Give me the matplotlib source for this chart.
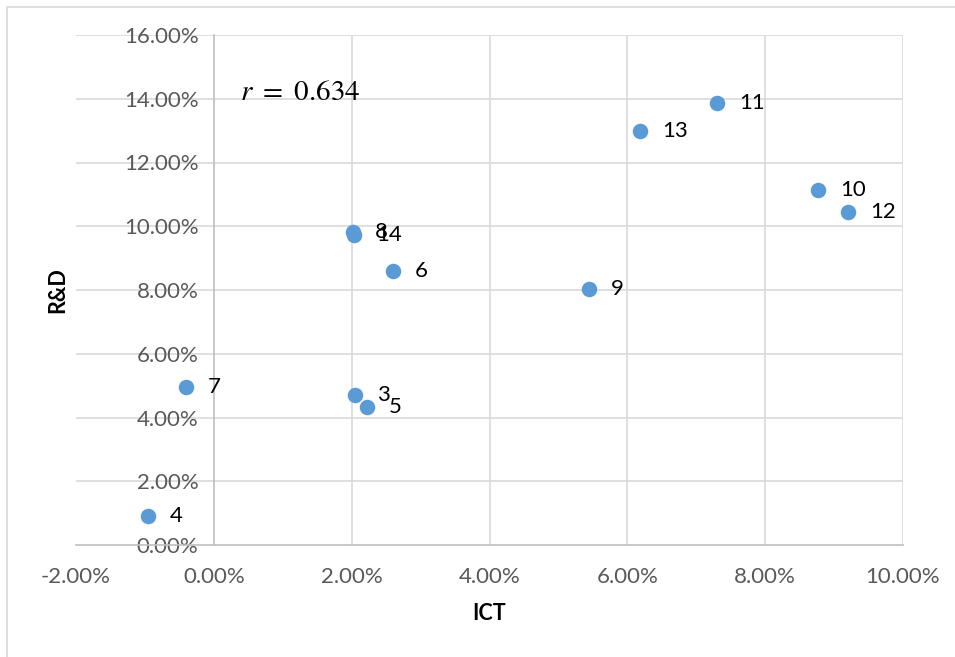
import matplotlib
matplotlib.use('Agg')
import matplotlib.pyplot as plt
from matplotlib.ticker import FuncFormatter
from matplotlib.patches import Rectangle

# observations: ICT growth vs R&D growth (percent), labelled by number
labels = ['3', '4', '5', '6', '7', '8', '9', '10', '11', '12', '13', '14']
ict = [2.05, -0.96, 2.22, 2.60, -0.41, 2.02, 5.44, 8.77, 7.30, 9.20, 6.18, 2.03]
rnd = [4.71, 0.90, 4.33, 8.60, 4.95, 9.82, 8.03, 11.14, 13.87, 10.45, 12.99, 9.73]
r_value = 0.634

xticks = [-2, 0, 2, 4, 6, 8, 10]
yticks = [0, 2, 4, 6, 8, 10, 12, 14, 16]

plt.rcParams['font.family'] = ['Lato', 'DejaVu Sans']

fig = plt.figure(figsize=(9.55, 6.57), dpi=100)
ax = fig.add_axes([76/955, 1-545/657, 827/955, 510/657])

# outer chart border (light gray)
fig.patches.append(Rectangle((7/955, -0.1), 1.2, 1-7/657+0.1, transform=fig.transFigure,
                             fill=False, edgecolor='#D9D9D9', lw=1.2))

# gridlines like excel (no line on the -2% edge)
for x in xticks[2:]:
    ax.axvline(x, color='#D9D9D9', lw=1.2, zorder=0)
for y in yticks[1:]:
    ax.axhline(y, color='#D9D9D9', lw=1.2, zorder=0)

ax.scatter(ict, rnd, s=125, color='#5B9BD5', zorder=3, linewidths=0)
for lab, x, y in zip(labels, ict, rnd):
    ax.annotate(lab, (x, y), xytext=(16, 0), textcoords='offset points',
                va='center', ha='left', fontsize=16, color='black', zorder=4)

ax.text(0.38, 14.2, r'$r\ =\ %.3f$' % r_value, fontsize=21, va='center', ha='left',
        math_fontfamily='stix')

ax.set_xlim(-2, 10)
ax.set_ylim(0, 16)
ax.set_xticks(xticks)
ax.set_yticks(yticks)
ax.xaxis.set_major_formatter(FuncFormatter(lambda v, p: '%.2f%%' % v))
ax.yaxis.set_major_formatter(FuncFormatter(lambda v, p: '%.2f%%' % v))

for s in ['top', 'right']:
    ax.spines[s].set_visible(False)
ax.spines['left'].set_position(('data', 0))
ax.spines['left'].set_color('#BFBFBF')
ax.spines['bottom'].set_color('#BFBFBF')
ax.spines['left'].set_linewidth(1.2)
ax.spines['bottom'].set_linewidth(1.2)
ax.spines['left'].set_zorder(1)
ax.tick_params(axis='both', length=0, labelsize=16, labelcolor='#595959')
ax.tick_params(axis='y', pad=11)
ax.tick_params(axis='x', pad=16)

fig.text(489/955, 1-613/657, 'ICT', fontsize=15.5, fontweight='bold', ha='center', va='center')
fig.text(58/955, 1-290/657, 'R&D', fontsize=15.5, fontweight='bold', ha='center', va='center',
         rotation=90)

fig.savefig('out.png', dpi=100)
